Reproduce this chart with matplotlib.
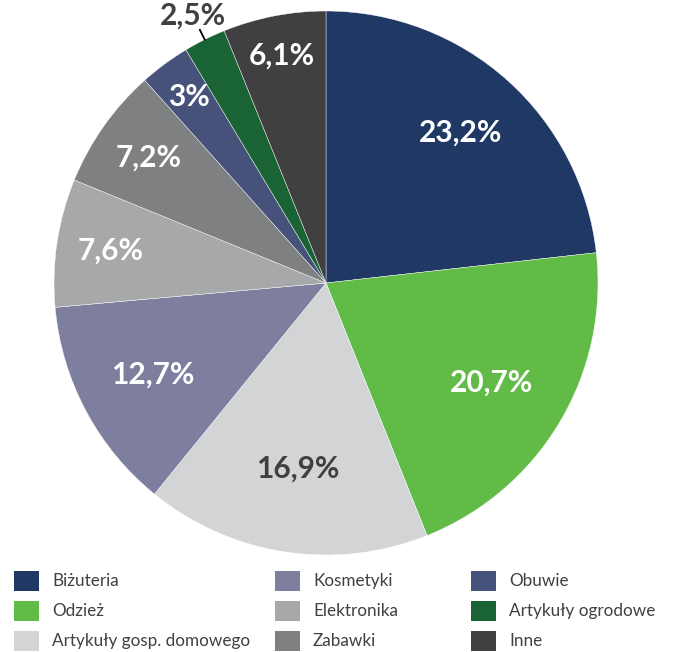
"""
Struktura sprzedaży wg kategorii — wykres kołowy.
"""
import matplotlib
matplotlib.use("Agg")
import matplotlib.pyplot as plt
from matplotlib.patches import Rectangle
import numpy as np

plt.rcParams["font.family"] = ["Lato", "DejaVu Sans"]

# ── Dane ─────────────────────────────────────────────────────────────────────
categories = [
    "Biżuteria", "Odzież", "Artykuły gosp. domowego",
    "Kosmetyki", "Elektronika", "Zabawki",
    "Obuwie", "Artykuły ogrodowe", "Inne",
]
shares = [23.2, 20.7, 16.9, 12.7, 7.6, 7.2, 3.0, 2.5, 6.1]
share_labels = ["23,2%", "20,7%", "16,9%", "12,7%", "7,6%", "7,2%", "3%", "2,5%", "6,1%"]

colors = ["#1F3864", "#62BB46", "#D3D4D6", "#7E7F9E", "#A7A8AA",
          "#7F8082", "#46527A", "#1A6334", "#404042"]
label_colors = ["white", "white", "#404040", "white", "white",
                "white", "white", "#404040", "white"]
# promień etykiety (ułamek promienia koła)
label_radius = [0.74, 0.71, 0.69, 0.72, 0.80, 0.80, 0.85, 1.10, 0.85]

fig = plt.figure(figsize=(6.73, 6.52), dpi=100)
ax = fig.add_axes([54 / 673, 1 - 555 / 652, 544 / 673, 544 / 652])

wedges, _ = ax.pie(
    shares, colors=colors, startangle=90, counterclock=False,
    wedgeprops={"edgecolor": "white", "linewidth": 0.3},
)
ax.set_xlim(-1, 1)
ax.set_ylim(-1, 1)
ax.set_aspect("equal")
ax.axis("off")

for w, txt, col, r in zip(wedges, share_labels, label_colors, label_radius):
    ang = np.deg2rad((w.theta1 + w.theta2) / 2)
    x, y = r * np.cos(ang), r * np.sin(ang)
    ax.text(x, y, txt, ha="center", va="center", color=col,
            fontsize=21.5, fontweight="bold", clip_on=False)
    if r > 1:
        # linia odniesienia dla małego wycinka
        ax.plot([1.0 * np.cos(ang), 1.04 * np.cos(ang)],
                [1.0 * np.sin(ang), 1.04 * np.sin(ang)],
                color="black", linewidth=1.3, clip_on=False)

# ── Legenda (3 kolumny, wypełniane kolumnami) ────────────────────────────────
col_x = [14, 275, 471]
row_y = [581, 611, 641]
W, H = 673, 652
for i, (name, c) in enumerate(zip(categories, colors)):
    cx = col_x[i // 3]
    cy = row_y[i % 3]
    fig.patches.append(Rectangle((cx / W, 1 - (cy + 10) / H), 25 / W, 20 / H,
                                 transform=fig.transFigure, facecolor=c,
                                 edgecolor="none"))
    fig.text((cx + 38) / W, 1 - cy / H, name, ha="left", va="center",
             fontsize=12.3, color="#404040")

fig.savefig("out.png", dpi=100)
